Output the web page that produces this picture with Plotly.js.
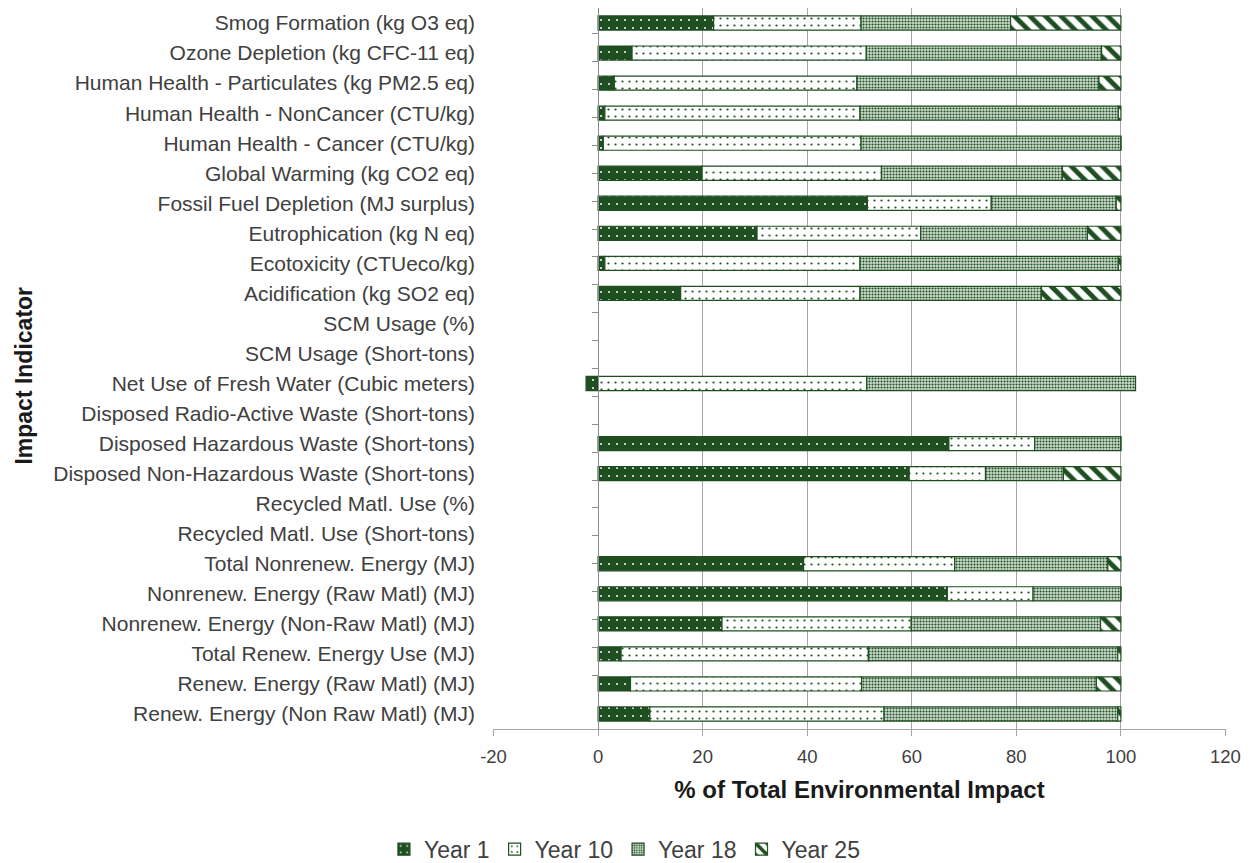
<!DOCTYPE html>
<html>
<head>
<meta charset="utf-8">
<script src="https://cdn.plot.ly/plotly-3.0.1.min.js"></script>
<style>html,body{margin:0;padding:0;background:#fff;}#chart{width:1252px;height:863px;}</style>
</head>
<body>
<div id="chart"></div>
<script>
const categories = [
  "Smog Formation (kg O3 eq)",
  "Ozone Depletion (kg CFC-11 eq)",
  "Human Health - Particulates (kg PM2.5 eq)",
  "Human Health - NonCancer (CTU/kg)",
  "Human Health - Cancer (CTU/kg)",
  "Global Warming (kg CO2 eq)",
  "Fossil Fuel Depletion (MJ surplus)",
  "Eutrophication (kg N eq)",
  "Ecotoxicity (CTUeco/kg)",
  "Acidification (kg SO2 eq)",
  "SCM Usage (%)",
  "SCM Usage (Short-tons)",
  "Net Use of Fresh Water (Cubic meters)",
  "Disposed Radio-Active Waste (Short-tons)",
  "Disposed Hazardous Waste (Short-tons)",
  "Disposed Non-Hazardous Waste (Short-tons)",
  "Recycled Matl. Use (%)",
  "Recycled Matl. Use (Short-tons)",
  "Total Nonrenew. Energy (MJ)",
  "Nonrenew. Energy (Raw Matl) (MJ)",
  "Nonrenew. Energy (Non-Raw Matl) (MJ)",
  "Total Renew. Energy Use (MJ)",
  "Renew. Energy (Raw Matl) (MJ)",
  "Renew. Energy (Non Raw Matl) (MJ)"
];
const year1  = [22.1, 6.5, 3.1, 1.3, 1.0, 19.9, 51.5, 30.4, 1.3, 15.8, null, null, -2.3, null, 67.1, 59.5, null, null, 39.3, 66.8, 23.7, 4.4, 6.2, 9.9];
const year10 = [28.2, 44.8, 46.4, 48.8, 49.3, 34.3, 23.7, 31.3, 48.8, 34.3, null, null, 51.4, null, 16.4, 14.6, null, null, 28.9, 16.4, 36.2, 47.3, 44.2, 44.8];
const year18 = [28.6, 45.0, 46.3, 49.4, 49.7, 34.6, 23.9, 31.9, 49.4, 34.7, null, null, 51.4, null, 16.5, 14.9, null, null, 29.3, 16.8, 36.2, 47.7, 44.9, 44.7];
const year25 = [21.1, 3.7, 4.2, 0.5, 0.0, 11.2, 0.9, 6.4, 0.5, 15.2, null, null, null, null, 0.0, 11.0, null, null, 2.5, 0.0, 3.9, 0.6, 4.7, 0.6];
const seriesNames = ["Year 1", "Year 10", "Year 18", "Year 25"];
const xTickVals = [-20, 0, 20, 40, 60, 80, 100, 120];
const xTickText = ["-20", "0", "20", "40", "60", "80", "100", "120"];

const GREEN = "#1f4f21";
const FONT = "Liberation Sans, Arial, sans-serif";
const TXT = "#404040";
const GRID = "#a6a6a6";

function barTrace(name, vals, pattern, color) {
  return {
    type: "bar", orientation: "h", name: name,
    x: vals, y: categories, width: 0.47,
    marker: { color: color, line: { color: GREEN, width: 1.2 }, pattern: pattern },
    hoverinfo: "x+name"
  };
}

const traces = [
  barTrace(seriesNames[0], year1, { shape: ".", bgcolor: GREEN, fgcolor: "#ffffff", size: 8, solidity: 0.05, fillmode: "replace" }, GREEN),
  barTrace(seriesNames[1], year10, { shape: ".", bgcolor: "#ffffff", fgcolor: GREEN, size: 7, solidity: 0.08, fillmode: "replace" }, "#ffffff"),
  barTrace(seriesNames[2], year18, { shape: ".", bgcolor: "#cfdccf", fgcolor: GREEN, size: 3, solidity: 0.4, fillmode: "replace" }, "#cfdccf"),
  barTrace(seriesNames[3], year25, { shape: "\\", bgcolor: "#ffffff", fgcolor: GREEN, size: 11, solidity: 0.45, fillmode: "replace" }, "#ffffff"),
  {
    type: "scatter", mode: "markers", x: year1, y: categories, yaxis: "y2",
    marker: { opacity: 0 }, showlegend: false, hoverinfo: "skip"
  }
];

const layout = {
  width: 1252, height: 863,
  margin: { l: 493, r: 26, t: 8, b: 134 },
  paper_bgcolor: "#ffffff", plot_bgcolor: "#ffffff",
  barmode: "relative",
  font: { family: FONT, color: TXT, size: 16 },
  xaxis: {
    range: [-20.1, 120.1], tickvals: xTickVals, ticktext: xTickText,
    showgrid: true, gridcolor: GRID, gridwidth: 1,
    zeroline: false, showline: true, linecolor: GRID, linewidth: 1,
    ticks: "outside", ticklen: 6, tickcolor: GRID, ticklabelstandoff: 5,
    automargin: false,
    tickfont: { size: 18.5, color: TXT, family: FONT },
    title: { text: "% of Total Environmental Impact", font: { size: 24, color: "#1a1a1a", family: FONT, weight: "bold" }, standoff: 14 }
  },
  yaxis: {
    type: "category", categoryorder: "array", categoryarray: categories,
    autorange: "reversed", showgrid: false, zeroline: false, showline: false,
    ticks: "", ticklabelstandoff: 17, automargin: false,
    tickfont: { size: 21, color: TXT, family: FONT }
  },
  yaxis2: {
    type: "category", categoryorder: "array", categoryarray: categories,
    autorange: "reversed", overlaying: "y", anchor: "free", side: "left",
    position: 20.1 / 140.2, automargin: false,
    showgrid: false, zeroline: false, showline: true, linecolor: "#8c8c8c", linewidth: 1,
    ticks: "outside", ticklen: 6, tickcolor: "#8c8c8c", tickson: "boundaries",
    showticklabels: false
  },
  showlegend: true,
  legend: {
    orientation: "h", xref: "paper", x: 0.18, xanchor: "center",
    yref: "container", y: 0.016, yanchor: "middle",
    font: { size: 23, color: TXT, family: FONT }, traceorder: "normal",
    itemwidth: 30
  },
  annotations: [{
    text: "<b>Impact Indicator</b>", xref: "paper", yref: "paper",
    x: -0.64, y: 0.49, xanchor: "center", yanchor: "middle", textangle: -90,
    showarrow: false, font: { size: 23, color: "#1a1a1a", family: FONT }
  }]
};

Plotly.newPlot("chart", traces, layout, { displayModeBar: false, staticPlot: true });
</script>
</body>
</html>
